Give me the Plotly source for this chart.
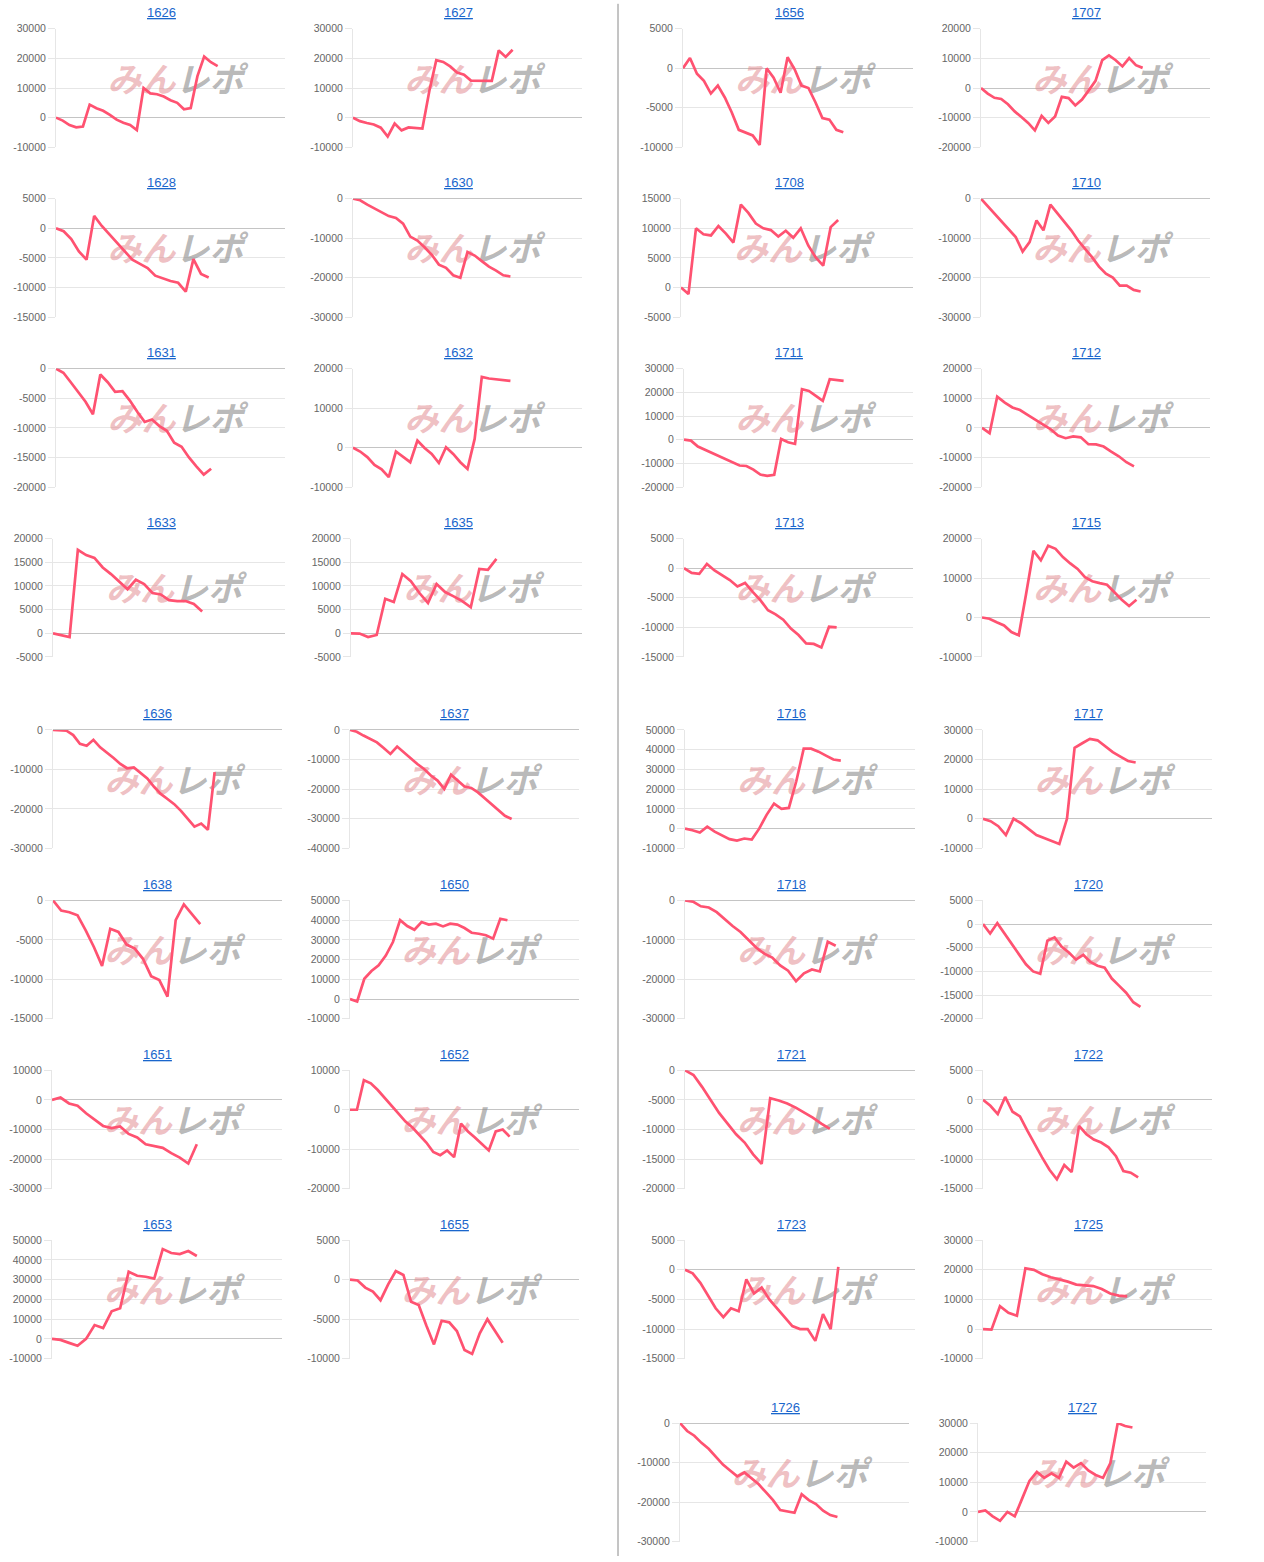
import plotly.graph_objects as go

# ---------------- data (cumulative values per machine) ----------------
names = ["1626", "1628", "1631", "1633", "1636", "1638", "1651", "1653",
         "1627", "1630", "1632", "1635", "1637", "1650", "1652", "1655",
         "1656", "1708", "1711", "1713", "1716", "1718", "1721", "1723", "1726",
         "1707", "1710", "1712", "1715", "1717", "1720", "1722", "1725", "1727"]

v1626 = [0, -1000, -2500, -3300, -3000, 4400, 3200, 2300, 900, -700, -1700, -2500, -4200, 10000, 8200, 7900, 7100, 5900, 5000, 2800, 3200, 14000, 20600, 18700, 17400]
v1628 = [0, -500, -1800, -3900, -5300, 2100, 400, -1000, -2400, -3800, -5300, -6000, -6700, -8000, -8500, -8900, -9200, -10700, -5200, -7700, -8300]
v1631 = [0, -700, -2300, -3900, -5600, -7700, -1000, -2300, -3900, -3800, -5400, -7300, -9000, -8600, -9700, -10500, -12500, -13200, -15000, -16500, -17900, -16900]
v1633 = [0, -350, -800, 17600, 16500, 15900, 13900, 12500, 10800, 9300, 11300, 10400, 8500, 8200, 7000, 6800, 6800, 6200, 4600]
v1636 = [0, -100, -200, -1300, -3500, -4000, -2500, -4400, -5700, -7100, -8600, -9700, -9500, -11000, -12300, -14400, -16200, -17500, -18800, -20500, -22600, -24500, -23700, -25300, -10700]
v1638 = [0, -1300, -1500, -1900, -3800, -5900, -8300, -3600, -4000, -5600, -6100, -7400, -9600, -10100, -12200, -2500, -500, -1700, -3000]
v1651 = [0, 800, -1200, -2000, -4500, -6800, -8800, -9500, -9000, -11500, -12700, -15000, -15600, -16200, -18000, -19500, -21500, -15000]
v1653 = [0, -500, -2000, -3500, 0, 7000, 5500, 14000, 15500, 34000, 32000, 31500, 30500, 45500, 43500, 43000, 44500, 42000]

v1627 = [0, -1200, -1800, -2300, -3400, -6400, -2000, -4300, -3300, -3600, -3700, 9000, 19400, 18800, 17300, 15200, 14500, 12500, 12400, 12300, 12400, 22700, 20500, 22900]
v1630 = [0, -400, -1500, -2400, -3400, -4400, -4900, -6300, -9600, -10600, -12300, -14200, -16700, -17500, -19400, -20000, -13500, -14400, -15800, -17200, -18200, -19400, -19700]
v1632 = [0, -1000, -2400, -4400, -5500, -7500, -1000, -2300, -3700, 1800, -100, -1600, -3900, 100, -1600, -3700, -5400, 2200, 17900, 17500, 17300, 17100, 16900]
v1635 = [0, -50, -800, -350, 7300, 6600, 12500, 11000, 8500, 6400, 10400, 8700, 7800, 6800, 5500, 13600, 13400, 15700]
v1637 = [0, -600, -1900, -3000, -4200, -6100, -8100, -5600, -7600, -9600, -11500, -13200, -15400, -17100, -19900, -15100, -17100, -19100, -19600, -21100, -23100, -25000, -27000, -29000, -30100]
v1650 = [0, -1200, 10300, 14200, 17100, 22000, 28900, 40000, 37000, 35100, 39000, 37700, 38200, 36800, 38200, 37700, 36000, 33600, 33100, 32300, 30600, 40700, 39900]
v1652 = [0, 0, 7500, 6700, 5000, 3000, 1000, -800, -3000, -4500, -6500, -8300, -10700, -11500, -10300, -12000, -3500, -5500, -7000, -8700, -10300, -5500, -5000, -6800]
v1655 = [0, -100, -1000, -1500, -2600, -600, 1100, 600, -2800, -3200, -5800, -8200, -5200, -5400, -6500, -8900, -9400, -6800, -5000, -6500, -8000]

v1656 = [0, 1300, -700, -1600, -3200, -2200, -3700, -5600, -7800, -8100, -8500, -9700, 0, -1200, -3100, 1400, -100, -2200, -2500, -4300, -6300, -6500, -7800, -8100]
v1708 = [0, -1100, 10000, 9000, 8800, 10400, 9100, 7600, 14000, 12600, 10800, 10000, 9700, 8600, 9600, 8400, 10000, 7100, 5100, 3700, 10200, 11400]
v1711 = [0, -400, -2900, -4200, -5600, -7100, -8100, -9500, -10900, -11100, -12600, -14700, -15300, -14800, 300, -1100, -1800, 21300, 20600, 18500, 16400, 25500, 25200, 24800]
v1713 = [0, -800, -950, 700, -400, -1200, -2000, -3100, -2500, -4000, -5400, -7100, -7800, -8700, -10200, -11300, -12700, -12800, -13400, -9900, -10000]
v1716 = [0, -800, -2000, 1000, -1500, -3500, -5300, -6000, -5000, -5500, 0, 7000, 12700, 10000, 10500, 24000, 40500, 40500, 39000, 37000, 35000, 34500]
v1718 = [0, -300, -1500, -1800, -3000, -4800, -6500, -8000, -10000, -12000, -13500, -14500, -16500, -17800, -20500, -18500, -17500, -18000, -10500, -11500]
v1721 = [0, -800, -2800, -5000, -7200, -9000, -10800, -12200, -14200, -15800, -4700, -5100, -5600, -6300, -7100, -8000, -9000, -9900]
v1723 = [0, -600, -2200, -4400, -6500, -8000, -6500, -7000, -1600, -4000, -3000, -5000, -6500, -8000, -9500, -10000, -10000, -12000, -7500, -10000, 500]
v1726 = [0, -2000, -3200, -5000, -6500, -8500, -10500, -12000, -13500, -12500, -14000, -15500, -17500, -19500, -22000, -22300, -22700, -18000, -19500, -20500, -22200, -23300, -23800]

v1707 = [0, -1900, -3300, -3700, -5500, -7900, -9800, -11800, -14300, -9400, -11800, -9600, -3000, -3400, -5900, -3900, -800, 2400, 9400, 11000, 9400, 7300, 10100, 7700, 6800]
v1710 = [0, -1900, -4000, -5900, -7800, -9700, -13400, -11000, -5500, -8000, -1500, -3600, -5700, -8000, -10600, -12700, -14800, -17200, -19000, -20000, -22000, -22000, -23100, -23500]
v1712 = [0, -1800, 10500, 8500, 6900, 6000, 4400, 2700, 1200, -400, -2600, -3500, -2900, -3200, -5500, -5600, -6300, -8000, -9600, -11600, -13000]
v1715 = [0, -300, -1200, -2000, -3700, -4500, 6000, 16900, 14500, 18200, 17400, 15300, 13700, 12300, 10200, 9200, 8700, 8300, 6400, 4500, 2900, 4500]
v1717 = [0, -800, -2500, -5500, 0, -1500, -3500, -5500, -6500, -7500, -8500, 0, 24000, 25500, 27000, 26500, 24500, 22500, 21000, 19500, 19000]
v1720 = [0, -2000, 200, -2000, -4300, -6500, -8500, -10000, -10500, -3500, -2800, -4800, -6000, -7500, -6500, -8000, -8800, -9200, -11500, -13000, -14500, -16500, -17500]
v1722 = [0, -1000, -2400, 500, -2000, -2800, -5200, -7500, -9700, -11800, -13400, -11000, -12200, -4400, -5800, -6700, -7200, -8000, -9500, -12000, -12300, -13100]
v1725 = [0, -200, 7700, 5500, 4500, 20500, 20000, 18500, 17500, 16800, 16000, 15000, 14800, 14500, 13500, 12000, 11300, 11000]
v1727 = [0, 500, -1500, -3000, 0, -1500, 4500, 10500, 13500, 11500, 13000, 11500, 17000, 15000, 16500, 14000, 12500, 11500, 16500, 30000, 29000, 28500]

series = [v1626, v1628, v1631, v1633, v1636, v1638, v1651, v1653,
          v1627, v1630, v1632, v1635, v1637, v1650, v1652, v1655,
          v1656, v1708, v1711, v1713, v1716, v1718, v1721, v1723, v1726,
          v1707, v1710, v1712, v1715, v1717, v1720, v1722, v1725, v1727]

# y-axis tick labels: top value, bottom value, step
y_max = [30000, 5000, 0, 20000, 0, 0, 10000, 50000,
         30000, 0, 20000, 20000, 0, 50000, 10000, 5000,
         5000, 15000, 30000, 5000, 50000, 0, 0, 5000, 0,
         20000, 0, 20000, 20000, 30000, 5000, 5000, 30000, 30000]
y_min = [-10000, -15000, -20000, -5000, -30000, -15000, -30000, -10000,
         -10000, -30000, -10000, -5000, -40000, -10000, -20000, -10000,
         -10000, -5000, -20000, -15000, -10000, -30000, -20000, -15000, -30000,
         -20000, -30000, -20000, -10000, -10000, -20000, -15000, -10000, -10000]
y_step = [10000, 5000, 5000, 5000, 10000, 5000, 10000, 10000,
          10000, 10000, 10000, 5000, 10000, 10000, 10000, 5000,
          5000, 5000, 10000, 5000, 10000, 10000, 5000, 5000, 10000,
          10000, 10000, 10000, 10000, 10000, 5000, 5000, 10000, 10000]
FUTURE_DAYS = 10  # empty categories after the last data point

# ---------------- layout (pixel geometry) ----------------
W, H = 1264, 1562
PLOT_H = 118.5
# the captured page maps figure px -> screen px as y*SY + OY; compensate
SY, OY = 0.9928, 5.2


def fy(px):
    return 1 - ((px - OY) / SY) / H


# name: (axis left px, plot right px, top gridline px, title centre px)
pos = {
    "1626": (56, 285, 28, 161), "1628": (56, 285, 198, 161), "1631": (56, 285, 368, 161), "1633": (53, 285, 538, 161),
    "1636": (53, 282, 729.5, 157), "1638": (53, 282, 900, 157), "1651": (52, 282, 1070, 157), "1653": (52, 282, 1240, 157),
    "1627": (353, 582, 28, 458), "1630": (353, 582, 198, 458), "1632": (353, 582, 368, 458), "1635": (351, 582, 538, 458),
    "1637": (350, 579, 729.5, 454), "1650": (350, 579, 900, 454), "1652": (350, 579, 1070, 454), "1655": (350, 579, 1240, 454),
    "1656": (683, 913, 28, 789), "1708": (681, 913, 198, 789), "1711": (684, 913, 368, 789), "1713": (684, 913, 538, 789),
    "1716": (685, 915, 729.5, 791), "1718": (685, 915, 900, 791), "1721": (685, 915, 1070, 791), "1723": (685, 915, 1240, 791),
    "1726": (680, 909, 1423, 785),
    "1707": (981, 1210, 28, 1086), "1710": (981, 1210, 198, 1086), "1712": (982, 1210, 368, 1086), "1715": (982, 1210, 538, 1086),
    "1717": (983, 1212, 729.5, 1088), "1720": (983, 1212, 900, 1088), "1722": (983, 1212, 1070, 1088), "1725": (983, 1212, 1240, 1088),
    "1727": (978, 1206, 1423, 1082),
}

LINE = "#ff5271"
GRID = "#e6e6e6"
ZERO = "#c4c4c4"
TITLE = "#1a66cc"
TICKFONT = dict(size=10.5, color="#666666", family="Liberation Sans, Arial, sans-serif")
WM = ('<b><i><span style="color:rgba(226,140,145,0.55)">みん</span>'
      '<span style="color:rgba(140,140,140,0.62)">レポ</span></i></b>')

fig = go.Figure()
layout = dict(width=W, height=H, autosize=False, margin=dict(l=0, r=0, t=0, b=0),
              paper_bgcolor="white", plot_bgcolor="white", showlegend=False)
annotations = []

for i, name in enumerate(names):
    vals = series[i]
    x0, x1, top, tx = pos[name]
    bottom = top + PLOT_H
    suf = "" if i == 0 else str(i + 1)
    span = len(vals) - 1 + FUTURE_DAYS
    ymax, ymin, step = y_max[i], y_min[i], y_step[i]

    # watermark (drawn beneath the line)
    wx_px = (x0 + x1) / 2 + 5
    wy_px = (top + bottom) / 2 - 5
    wx = (wx_px - x0) / (x1 - x0) * span
    wy = ymax - (wy_px - top) / (bottom - top) * (ymax - ymin)
    fig.add_trace(go.Scatter(x=[wx], y=[wy], mode="text", text=[WM],
                             textfont=dict(size=34, family="Noto Sans CJK JP"),
                             xaxis="x" + suf, yaxis="y" + suf, hoverinfo="skip", cliponaxis=False))
    fig.add_trace(go.Scatter(x=list(range(len(vals))), y=vals, mode="lines",
                             line=dict(color=LINE, width=2.7),
                             xaxis="x" + suf, yaxis="y" + suf, hoverinfo="skip"))

    ticks = list(range(ymax, ymin - 1, -step))
    layout["xaxis" + suf] = dict(domain=[x0 / W, x1 / W], range=[0, span], visible=False,
                                 anchor="y" + suf, fixedrange=True)
    layout["yaxis" + suf] = dict(domain=[fy(bottom), fy(top)], range=[ymin, ymax],
                                 anchor="x" + suf, tickmode="array", tickvals=ticks,
                                 ticktext=[str(t) for t in ticks], showgrid=True, gridcolor=GRID,
                                 gridwidth=1, zeroline=True, zerolinecolor=ZERO, zerolinewidth=1,
                                 showline=True, linecolor=GRID, linewidth=1, ticks="outside",
                                 ticklen=7, tickcolor=GRID, tickwidth=1, tickfont=TICKFONT,
                                 fixedrange=True)
    annotations.append(dict(text="<u>" + name + "</u>", x=tx / W, y=fy(top - 16),
                            xref="paper", yref="paper", showarrow=False, xanchor="center",
                            yanchor="middle",
                            font=dict(size=13, color=TITLE, family="Liberation Sans, Arial, sans-serif")))

layout["annotations"] = annotations
layout["shapes"] = [dict(type="line", xref="paper", yref="paper", x0=618 / W, x1=618 / W,
                         y0=0, y1=fy(3), line=dict(color="#8a8a8a", width=1))]
fig.update_layout(**layout)
fig.write_html("out.html")
